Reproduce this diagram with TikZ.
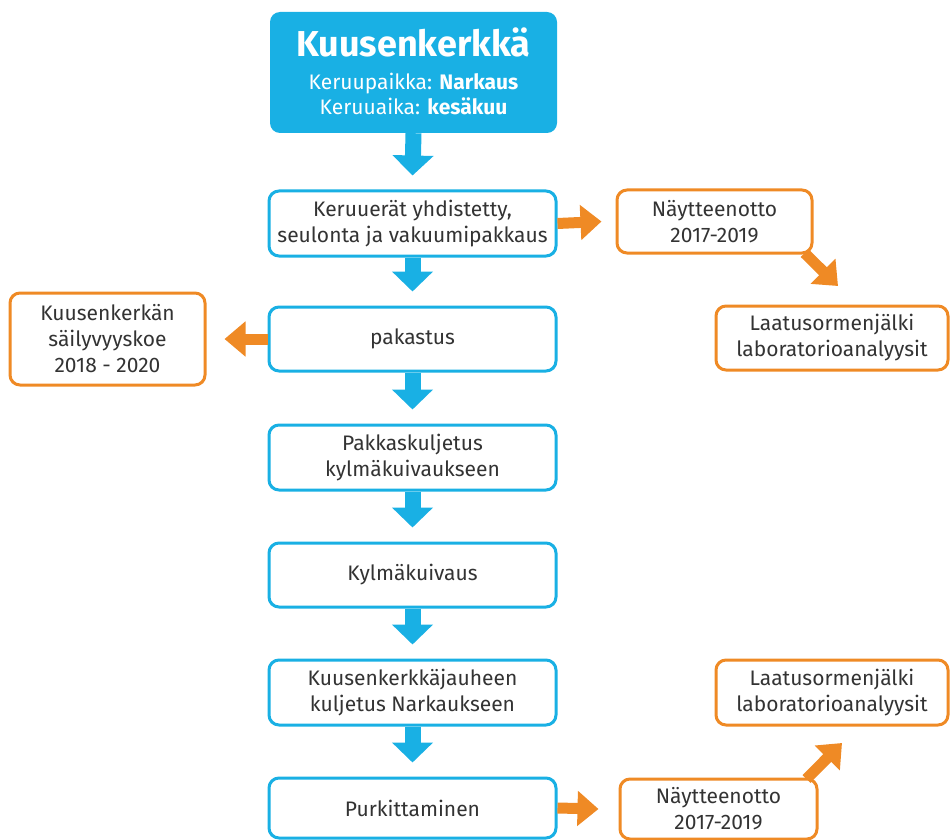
\documentclass[tikz,border=0pt]{standalone}
\usepackage{fontspec}
\setmainfont{Fira Sans}
\usetikzlibrary{arrows.meta}
\definecolor{kblue}{HTML}{19B0E4}
\definecolor{korange}{HTML}{EF8A25}
\definecolor{ktext}{HTML}{333333}
\tikzset{
  bodyfont/.style={font=\fontsize{21}{26}\selectfont},
  bluebox/.style={draw=kblue, line width=3pt, rounded corners=10pt, fill=white,
    minimum width=287pt, align=center, text=ktext, bodyfont},
  orangebox/.style={draw=korange, line width=3pt, rounded corners=10pt, fill=white,
    align=center, text=ktext, bodyfont},
  titletext/.style={text=white, anchor=base, inner sep=0pt, bodyfont},
  bluearrow/.style={draw=kblue, line width=16pt, -{Triangle[width=40pt,length=20pt]}},
  orangearrow/.style={draw=korange, line width=11pt, -{Triangle[width=34pt,length=21pt]}},
}
\begin{document}
\begin{tikzpicture}[x=1pt,y=-1pt]
\useasboundingbox (0,0) rectangle (951,840);

% header box with its three text lines
\node[fill=kblue, rounded corners=10pt, minimum width=287pt, minimum height=121pt] (top) at (413.5,72.5) {};
\node[titletext, font=\fontsize{36}{40}\selectfont\bfseries] (title) at (413.5,57) {Kuusenkerkkä};
\node[titletext] (place) at (413.5,90) {Keruupaikka: \textbf{Narkaus}};
\node[titletext] (time) at (413.5,115) {Keruuaika: \textbf{kesäkuu}};

% main chain
\node[bluebox, minimum height=65pt] (b2) at (412.5,223.5) {Keruuerät yhdistetty,\\seulonta ja vakuumipakkaus};
\node[bluebox, minimum height=64pt] (b3) at (412.5,339) {pakastus};
\node[bluebox, minimum height=65pt] (b4) at (412.5,457.5) {Pakkaskuljetus\\kylmäkuivaukseen};
\node[bluebox, minimum height=64pt] (b5) at (412.5,575) {Kylmäkuivaus};
\node[bluebox, minimum height=65pt] (b6) at (412.5,692.5) {Kuusenkerkkäjauheen\\kuljetus Narkaukseen};
\node[bluebox, minimum height=60pt] (b7) at (412.5,808) {Purkittaminen};

% side branches
\node[orangebox, minimum width=195pt, minimum height=63pt] (n1) at (714.5,221.5) {Näytteenotto\\2017-2019};
\node[orangebox, minimum width=232pt, minimum height=64pt] (l1) at (832,338) {Laatusormenjälki\\laboratorioanalyysit};
\node[orangebox, minimum width=195pt, minimum height=92pt] (k) at (107.5,339) {Kuusenkerkän\\säilyvyyskoe\\2018 - 2020};
\node[orangebox, minimum width=232pt, minimum height=65pt] (l2) at (832,692.5) {Laatusormenjälki\\laboratorioanalyysit};
\node[orangebox, minimum width=197pt, minimum height=60pt] (n2) at (718.5,809) {Näytteenotto\\2017-2019};

% arrow tips
\coordinate (t1) at (838,286);
\coordinate (t2) at (842,743);

% flow arrows
\draw[bluearrow] (top.south) -- ([yshift=14pt]b2.north);
\draw[bluearrow] (b2.south) -- ([yshift=14pt]b3.north);
\draw[bluearrow] (b3.south) -- ([yshift=14pt]b4.north);
\draw[bluearrow] (b4.south) -- ([yshift=14pt]b5.north);
\draw[bluearrow] (b5.south) -- ([yshift=14pt]b6.north);
\draw[bluearrow] (b6.south) -- ([yshift=14pt]b7.north);

\draw[orangearrow] (b2.east) -- ([xshift=-14pt]n1.west);
\draw[orangearrow] (b3.west) -- ([xshift=18pt]k.east);
\draw[orangearrow] (b7.east) -- ([xshift=-20pt]n2.west);
\draw[orangearrow] ([xshift=-9pt,yshift=1.5pt]n1.south east) -- (t1);
\draw[orangearrow] ([xshift=-12pt,yshift=-1.5pt]n2.north east) -- (t2);
\end{tikzpicture}
\end{document}
